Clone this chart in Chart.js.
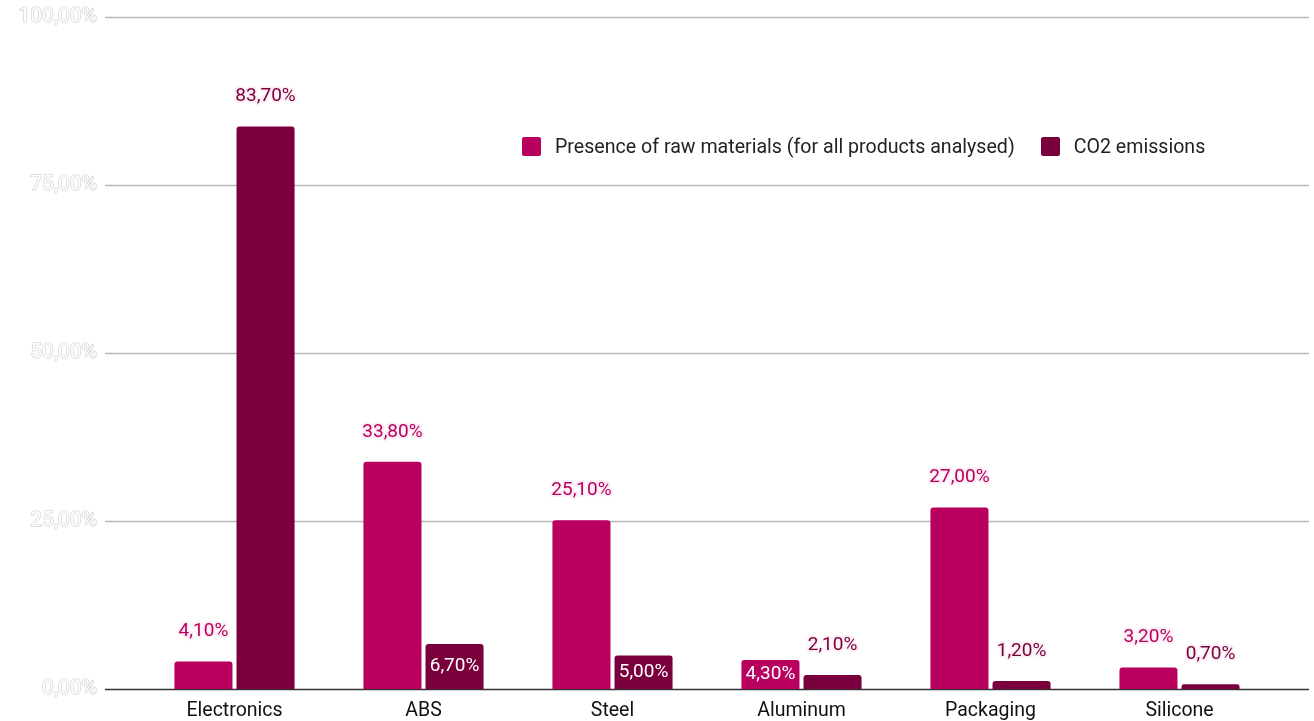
<!DOCTYPE html>
<html>
<head>
<meta charset="utf-8">
<script src="https://cdn.jsdelivr.net/npm/chart.js@4/dist/chart.umd.min.js"></script>
<style>
  html, body { margin: 0; padding: 0; background: #fff; overflow: hidden; }
  #wrap { position: relative; width: 1314px; height: 721px; }
  #legend { position: absolute; left: 522px; top: 135px; display: flex; font-family: Roboto, sans-serif; font-size: 19.6px; color: #222; }
  #legend .item { display: flex; align-items: center; margin-right: 26px; }
  #legend .box { width: 19px; height: 19px; border-radius: 2px; margin-right: 14px; }
</style>
</head>
<body>
<div id="wrap">
  <canvas id="rawMaterialsChart"></canvas>
  <div id="legend"></div>
</div>
<script>
// data
var categories = ["Electronics", "ABS", "Steel", "Aluminum", "Packaging", "Silicone"];
var presenceValues = [4.1, 33.8, 25.1, 4.3, 27.0, 3.2];
var co2Values = [83.7, 6.7, 5.0, 2.1, 1.2, 0.7];
var seriesNames = ["Presence of raw materials (for all products analysed)", "CO2 emissions"];
var yTicks = [0, 25, 50, 75, 100];

var pink = "#b9005f";
var wine = "#7a003d";

// which labels sit inside their bar (dataset index -> category indexes)
var insideLabels = { 0: [3], 1: [1, 2] };

function fmt(v) {
  return v.toFixed(2).replace(".", ",") + "%";
}

// gridlines spanning a bit wider than the bars
var gridPlugin = {
  id: "wideGrid",
  beforeDatasetsDraw: function(chart) {
    let ctx = chart.ctx;
    let area = chart.chartArea;
    let y = chart.scales.y;
    ctx.save();
    y.ticks.forEach(function(t) {
      let py = Math.round(y.getPixelForValue(t.value)) + 0.5;
      ctx.beginPath();
      ctx.lineWidth = 1.5;
      ctx.strokeStyle = t.value === 0 ? "#333333" : "#b8b8b8";
      ctx.moveTo(area.left - 35, py);
      ctx.lineTo(area.right + 35, py);
      ctx.stroke();
    });
    ctx.restore();
  }
};

var labelPlugin = {
  id: "barLabels",
  afterDatasetsDraw: function(chart) {
    let ctx = chart.ctx;
    ctx.save();
    ctx.font = "19px Roboto";
    ctx.textAlign = "center";
    ctx.textBaseline = "middle";
    ctx.lineJoin = "round";
    chart.data.datasets.forEach(function(ds, di) {
      let meta = chart.getDatasetMeta(di);
      meta.data.forEach(function(bar, i) {
        let txt = fmt(ds.data[i]);
        let inside = insideLabels[di] && insideLabels[di].includes(i);
        let ty = inside ? (bar.y + bar.base) / 2 : bar.y - 30;
        if (inside) {
          ctx.fillStyle = "#ffffff";
          ctx.fillText(txt, bar.x, ty);
        } else {
          ctx.strokeStyle = "#fbeef4";
          ctx.lineWidth = 4;
          ctx.strokeText(txt, bar.x, ty);
          ctx.fillStyle = ds.backgroundColor;
          ctx.fillText(txt, bar.x, ty);
        }
      });
    });
    ctx.restore();
  }
};

function buildLegend(chart) {
  let legend = document.getElementById("legend");
  chart.data.datasets.forEach(function(ds) {
    let item = document.createElement("div");
    item.className = "item";
    let box = document.createElement("span");
    box.className = "box";
    box.style.background = ds.backgroundColor;
    let label = document.createElement("span");
    label.textContent = ds.label;
    item.appendChild(box);
    item.appendChild(label);
    legend.appendChild(item);
  });
}

function initializePage() {
  let ctx = document.getElementById("rawMaterialsChart").getContext("2d");

  let chartData = {
    type: "bar",
    data: {
      labels: categories,
      datasets: [{
        label: seriesNames[0],
        data: presenceValues,
        backgroundColor: pink,
        borderRadius: { topLeft: 3, topRight: 3 },
        borderSkipped: "bottom",
        categoryPercentage: 0.657,
        barPercentage: 0.935
      }, {
        label: seriesNames[1],
        data: co2Values,
        backgroundColor: wine,
        borderRadius: { topLeft: 3, topRight: 3 },
        borderSkipped: "bottom",
        categoryPercentage: 0.657,
        barPercentage: 0.935
      }]
    },
    options: {
      responsive: true,
      maintainAspectRatio: false,
      animation: false,
      layout: { padding: { top: 17, right: 40, left: 0, bottom: 0 } },
      plugins: {
        legend: { display: false },
        tooltip: { enabled: false }
      },
      scales: {
        x: {
          grid: { display: false, drawTicks: false },
          border: { display: false },
          ticks: { color: "#111", font: { family: "Roboto", size: 19.5 }, padding: 10 },
          afterFit: function(scale) {
            scale.height = 32;
            scale.paddingLeft = 0;
            scale.paddingRight = 0;
          }
        },
        y: {
          min: 0,
          max: 100,
          afterBuildTicks: function(scale) {
            scale.ticks = yTicks.map(function(v) { return { value: v }; });
          },
          grid: { display: false, drawTicks: false },
          border: { display: false },
          ticks: {
            padding: 43,
            color: "#ffffff",
            textStrokeColor: "#c8c8c8",
            textStrokeWidth: 1.1,
            font: { family: "Roboto", size: 21 },
            callback: function(v) { return fmt(v); }
          },
          afterFit: function(scale) {
            scale.width = 140;
            scale.paddingTop = 0;
            scale.paddingBottom = 0;
          }
        }
      }
    },
    plugins: [gridPlugin, labelPlugin]
  };

  let chart = new Chart(ctx, chartData);
  buildLegend(chart);
}

window.onload = initializePage;
</script>
</body>
</html>
